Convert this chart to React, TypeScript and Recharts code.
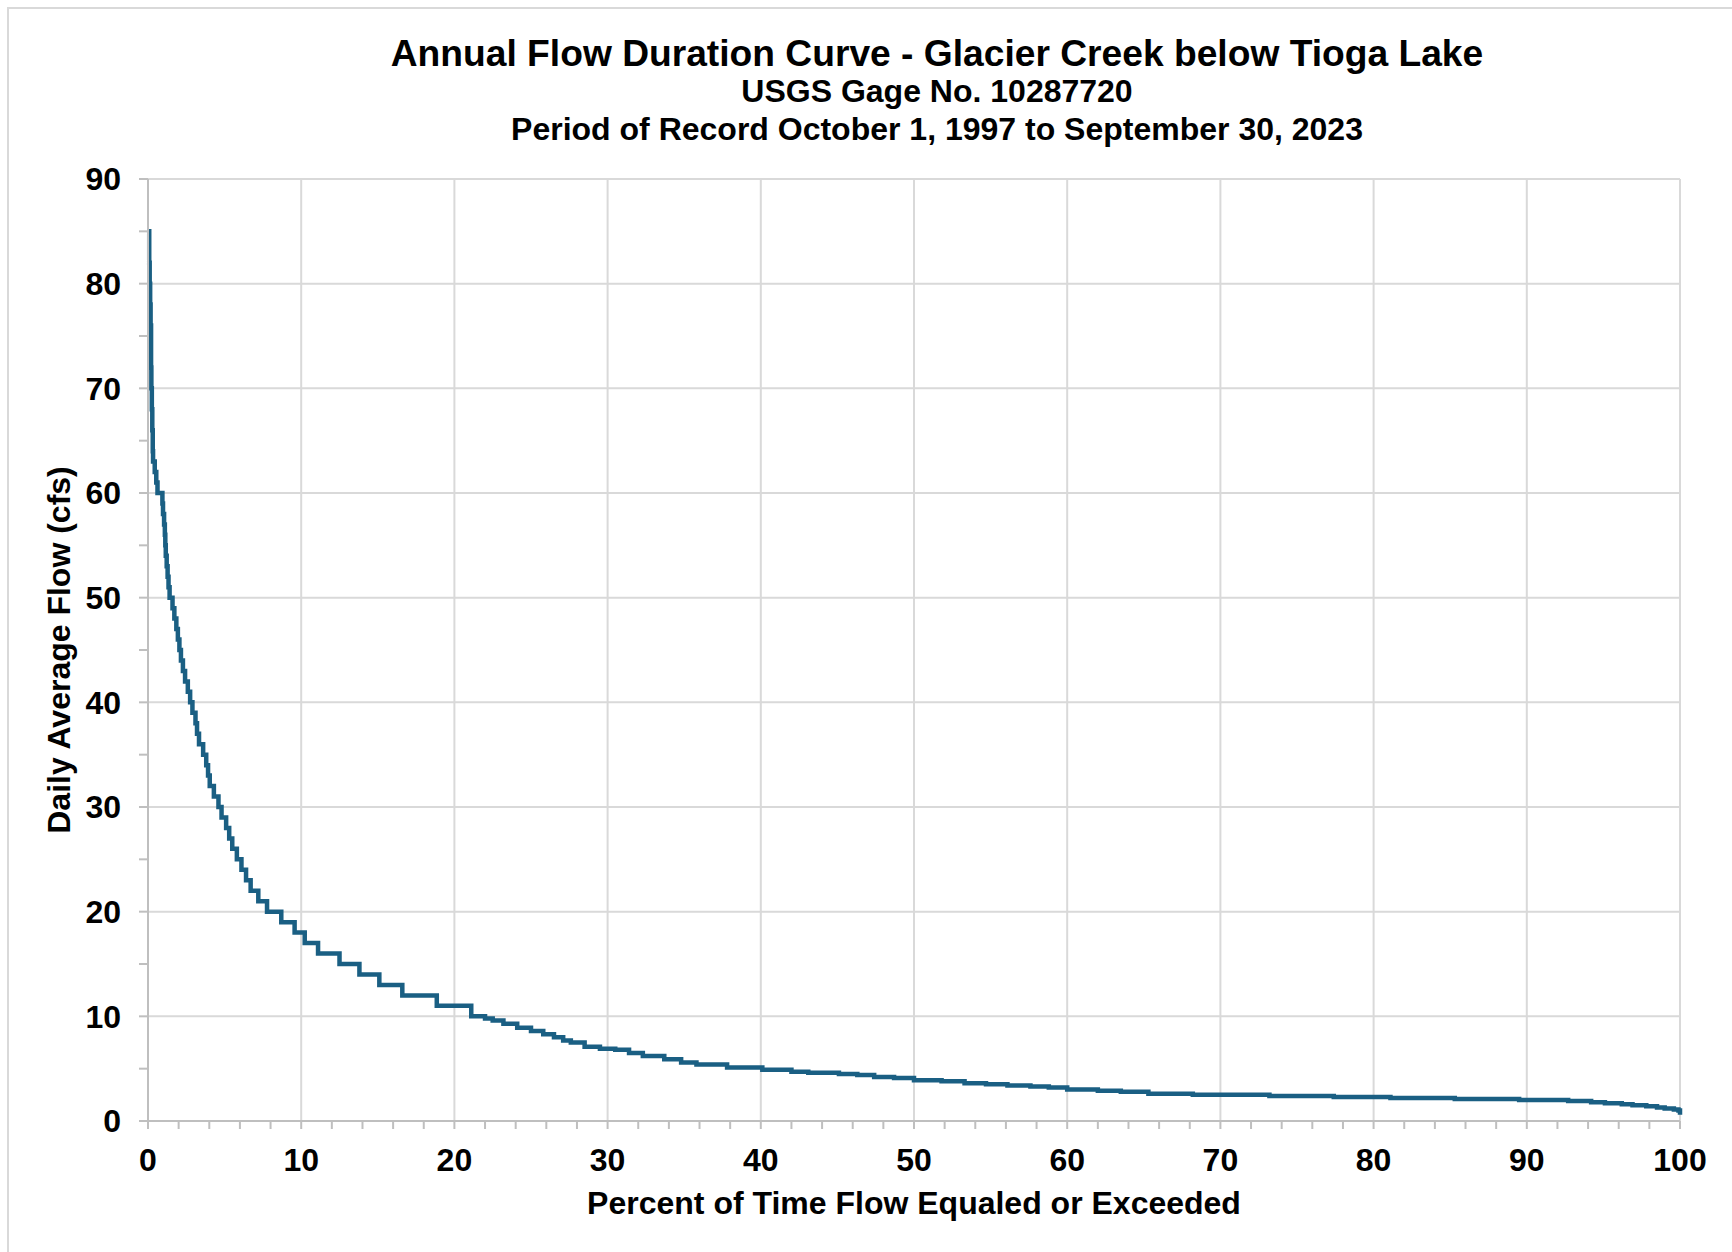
import React from 'react';
import { LineChart, Line, XAxis, YAxis, CartesianGrid } from 'recharts';

// Flow duration curve: percent of time a daily flow level is equaled or exceeded.
// Each flow value holds from its exceedance percent until the next point (step curve).
const exceedancePct = [
  0, 0.08, 0.11, 0.14, 0.17, 0.2, 0.22, 0.25, 0.28, 0.31, 0.33, 0.44, 0.54, 0.62,
  0.94, 0.98, 1.05, 1.1, 1.13, 1.16, 1.22, 1.28, 1.34, 1.41, 1.6, 1.72, 1.85, 1.95,
  2.05, 2.15, 2.28, 2.42, 2.6, 2.75, 2.9, 3.1, 3.2, 3.33, 3.6, 3.8, 3.92, 4.03, 4.3,
  4.6, 4.8, 5.1, 5.3, 5.5, 5.8, 6.1, 6.4, 6.7, 7.2, 7.77, 8.7, 9.57, 10.23, 11.1,
  12.5, 13.8, 15.1, 16.6, 18.85, 21.1,
  22.0, 22.5, 23.2, 24.1, 25.0, 25.8, 26.5, 27.1, 27.6, 28.5, 29.5, 30.5, 31.4, 32.3,
  33.7, 34.8, 35.8, 37.8, 40.1, 42.0, 43.1, 45.1, 46.3, 47.4, 48.7, 50.0, 51.8, 53.3,
  54.7, 56.1, 57.6, 58.8, 60.0, 62.0, 63.5, 65.3, 68.2, 73.2, 77.4, 81.1, 85.3, 89.5,
  92.7, 94.2, 95.1, 96.2, 96.9, 97.8, 98.5, 99.0, 99.6, 99.9, 100,
];

const flowCfs = [
  85, 82, 80, 78, 76, 72, 70, 68, 66, 64, 63, 62, 61, 60,
  59, 58, 57, 56, 55, 54, 53, 52, 51, 50, 49, 48, 47, 46,
  45, 44, 43, 42, 41, 40, 39, 38, 37, 36, 35, 34, 33, 32, 31,
  30, 29, 28, 27, 26, 25, 24, 23, 22, 21, 20, 19, 18, 17, 16,
  15, 14, 13, 12, 11, 10,
  9.8, 9.6, 9.3, 8.9, 8.6, 8.3, 8.0, 7.7, 7.5, 7.1, 6.9, 6.8, 6.5, 6.2,
  5.9, 5.6, 5.4, 5.1, 4.9, 4.7, 4.6, 4.5, 4.4, 4.2, 4.1, 3.9, 3.8, 3.6,
  3.5, 3.4, 3.3, 3.2, 3.0, 2.9, 2.8, 2.6, 2.5, 2.4, 2.3, 2.2, 2.1, 2.0,
  1.9, 1.8, 1.7, 1.6, 1.5, 1.4, 1.3, 1.2, 1.1, 1.0, 0.6,
];

// Axis ticks: minor ticks every 2% / 5 cfs, labels and gridlines every 10
const xTicks = [0, 2, 4, 6, 8, 10, 12, 14, 16, 18, 20, 22, 24, 26, 28, 30, 32, 34, 36, 38, 40,
  42, 44, 46, 48, 50, 52, 54, 56, 58, 60, 62, 64, 66, 68, 70, 72, 74, 76, 78, 80,
  82, 84, 86, 88, 90, 92, 94, 96, 98, 100];
const yTicks = [0, 5, 10, 15, 20, 25, 30, 35, 40, 45, 50, 55, 60, 65, 70, 75, 80, 85, 90];
const xGrid = [10, 20, 30, 40, 50, 60, 70, 80, 90, 100];
const yGrid = [10, 20, 30, 40, 50, 60, 70, 80, 90];

const titleLines = [
  'Annual Flow Duration Curve - Glacier Creek below Tioga Lake',
  'USGS Gage No. 10287720',
  'Period of Record October 1, 1997 to September 30, 2023',
];
const xLabel = 'Percent of Time Flow Equaled or Exceeded';
const yLabel = 'Daily Average Flow (cfs)';

const data = exceedancePct.map((pct, i) => ({ pct, flow: flowCfs[i] }));

const FONT = '"Liberation Sans", Arial, Helvetica, sans-serif';
const W = 1732;
const H = 1252;
const AXIS_COLOR = '#bfbfbf';
const GRID_COLOR = '#d9d9d9';
const LINE_COLOR = '#1a5f83';

const tickStyle = { fontSize: 32, fontWeight: 'bold', fill: '#000', fontFamily: FONT };
const labelEvery10 = (v: number) => (v % 10 === 0 ? String(v) : '');

export default function App() {
  return (
    <div style={{ position: 'absolute', left: 0, top: 0, width: W, height: H, background: '#fff', overflow: 'hidden' }}>
      {/* frame edges */}
      <div style={{ position: 'absolute', left: 7, top: 7, width: W, height: H, borderTop: `2px solid ${GRID_COLOR}`, borderLeft: `2px solid ${GRID_COLOR}` }} />
      <div style={{ position: 'absolute', left: 0, top: 0 }}>
        <LineChart width={W} height={H} data={data} margin={{ top: 179, right: 52, bottom: 71, left: 0 }}>
          <CartesianGrid
            stroke={GRID_COLOR}
            strokeWidth={2}
            horizontalValues={yGrid}
            verticalValues={xGrid}
          />
          <XAxis
            dataKey="pct"
            type="number"
            domain={[0, 100]}
            ticks={xTicks}
            interval={0}
            tickFormatter={labelEvery10}
            height={60}
            tickSize={8}
            tickMargin={19}
            stroke={AXIS_COLOR}
            strokeWidth={2}
            tick={tickStyle}
          />
          <YAxis
            type="number"
            domain={[0, 90]}
            ticks={yTicks}
            interval={0}
            tickFormatter={labelEvery10}
            width={148}
            tickSize={9}
            tickMargin={18}
            stroke={AXIS_COLOR}
            strokeWidth={2}
            tick={tickStyle}
          />
          <Line
            type="stepAfter"
            dataKey="flow"
            stroke={LINE_COLOR}
            strokeWidth={4.5}
            dot={false}
            activeDot={false}
            isAnimationActive={false}
          />
        </LineChart>
      </div>
      <svg width={W} height={H} style={{ position: 'absolute', left: 0, top: 0, pointerEvents: 'none' }}>
        <g fontFamily={FONT} fontWeight="bold" fill="#000" textAnchor="middle">
          <text x={937} y={66} fontSize={37.2}>{titleLines[0]}</text>
          <text x={937} y={102} fontSize={32}>{titleLines[1]}</text>
          <text x={937} y={140} fontSize={32}>{titleLines[2]}</text>
          <text x={914} y={1214} fontSize={32}>{xLabel}</text>
          <text x={70} y={650} fontSize={32} transform="rotate(-90 70 650)">{yLabel}</text>
        </g>
      </svg>
    </div>
  );
}
